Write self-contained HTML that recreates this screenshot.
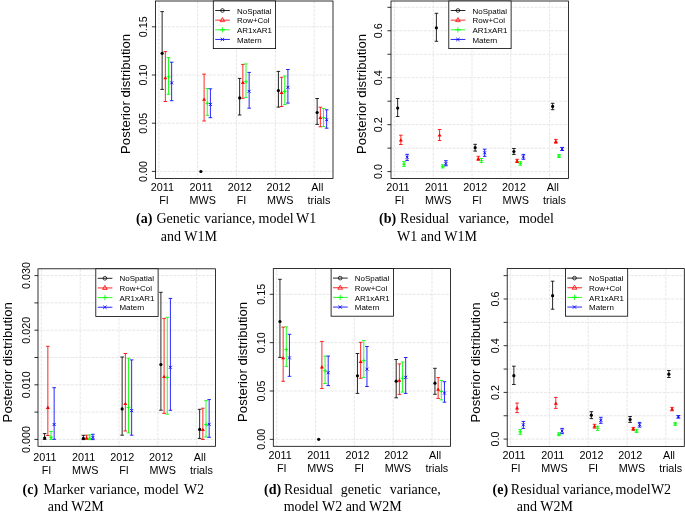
<!DOCTYPE html>
<html><head><meta charset="utf-8"><title>Posterior distributions</title>
<style>
html,body{margin:0;padding:0;background:#fff;width:685px;height:515px;overflow:hidden}
svg{display:block;will-change:transform}
text{font-family:"Liberation Sans",sans-serif;fill:#000}
text.cap{font-family:"Liberation Serif",serif}
</style></head><body>
<svg width="685" height="515" viewBox="0 0 685 515">
<g>
<path d="M158.86 1V178.5M197.69 1V178.5M236.52 1V178.5M275.35 1V178.5M314.18 1V178.5M155.5 171.4H333M155.5 123.2H333M155.5 75H333M155.5 26.8H333" stroke="#e4e4e4" stroke-width="0.9" stroke-dasharray="3 1.1" fill="none"/>
<path d="M162.15 11.6V89.4M160.35 11.6H163.95M160.35 89.4H163.95" stroke="#000000" stroke-width="0.85" fill="none"/>
<circle cx="162.15" cy="53.3" r="1.6" fill="#000000"/>
<path d="M165.35 51.6V101.5M163.55 51.6H167.15M163.55 101.5H167.15" stroke="#ff0000" stroke-width="0.85" fill="none"/>
<polygon points="165.35,76 163.35,79.3 167.35,79.3" fill="#ff0000"/>
<path d="M168.5 57.5V94.3M166.7 57.5H170.3M166.7 94.3H170.3" stroke="#00ff00" stroke-width="0.85" fill="none"/>
<path d="M166.6 76.9H170.4M168.5 75V78.8" stroke="#00ff00" stroke-width="0.9"/>
<path d="M171.65 62.2V100.7M169.85 62.2H173.45M169.85 100.7H173.45" stroke="#0000ff" stroke-width="0.85" fill="none"/>
<path d="M170.15 81.4L173.15 84.4M170.15 84.4L173.15 81.4" stroke="#0000ff" stroke-width="0.9"/>
<circle cx="200.9" cy="171.5" r="1.6" fill="#000000"/>
<path d="M204.1 74.1V121M202.3 74.1H205.9M202.3 121H205.9" stroke="#ff0000" stroke-width="0.85" fill="none"/>
<polygon points="204.1,97.5 202.1,100.8 206.1,100.8" fill="#ff0000"/>
<path d="M207.25 88.5V115.3M205.45 88.5H209.05M205.45 115.3H209.05" stroke="#00ff00" stroke-width="0.85" fill="none"/>
<path d="M205.35 103.3H209.15M207.25 101.4V105.2" stroke="#00ff00" stroke-width="0.9"/>
<path d="M210.4 88.8V117.7M208.6 88.8H212.2M208.6 117.7H212.2" stroke="#0000ff" stroke-width="0.85" fill="none"/>
<path d="M208.9 102.9L211.9 105.9M208.9 105.9L211.9 102.9" stroke="#0000ff" stroke-width="0.9"/>
<path d="M239.65 78.4V115M237.85 78.4H241.45M237.85 115H241.45" stroke="#000000" stroke-width="0.85" fill="none"/>
<circle cx="239.65" cy="97.9" r="1.6" fill="#000000"/>
<path d="M242.85 64.4V98.3M241.05 64.4H244.65M241.05 98.3H244.65" stroke="#ff0000" stroke-width="0.85" fill="none"/>
<polygon points="242.85,80.6 240.85,83.9 244.85,83.9" fill="#ff0000"/>
<path d="M246 63.9V97.4M244.2 63.9H247.8M244.2 97.4H247.8" stroke="#00ff00" stroke-width="0.85" fill="none"/>
<path d="M244.1 81.7H247.9M246 79.8V83.6" stroke="#00ff00" stroke-width="0.9"/>
<path d="M249.15 72.4V108.2M247.35 72.4H250.95M247.35 108.2H250.95" stroke="#0000ff" stroke-width="0.85" fill="none"/>
<path d="M247.65 89.8L250.65 92.8M247.65 92.8L250.65 89.8" stroke="#0000ff" stroke-width="0.9"/>
<path d="M278.4 71.4V107.1M276.6 71.4H280.2M276.6 107.1H280.2" stroke="#000000" stroke-width="0.85" fill="none"/>
<circle cx="278.4" cy="90.6" r="1.6" fill="#000000"/>
<path d="M281.6 77.3V106.5M279.8 77.3H283.4M279.8 106.5H283.4" stroke="#ff0000" stroke-width="0.85" fill="none"/>
<polygon points="281.6,90.6 279.6,93.9 283.6,93.9" fill="#ff0000"/>
<path d="M284.75 76V104.6M282.95 76H286.55M282.95 104.6H286.55" stroke="#00ff00" stroke-width="0.85" fill="none"/>
<path d="M282.85 91.4H286.65M284.75 89.5V93.3" stroke="#00ff00" stroke-width="0.9"/>
<path d="M287.9 69.5V103.1M286.1 69.5H289.7M286.1 103.1H289.7" stroke="#0000ff" stroke-width="0.85" fill="none"/>
<path d="M286.4 85.8L289.4 88.8M286.4 88.8L289.4 85.8" stroke="#0000ff" stroke-width="0.9"/>
<path d="M317.15 98.5V124.4M315.35 98.5H318.95M315.35 124.4H318.95" stroke="#000000" stroke-width="0.85" fill="none"/>
<circle cx="317.15" cy="112.5" r="1.6" fill="#000000"/>
<path d="M320.35 107.2V126.8M318.55 107.2H322.15M318.55 126.8H322.15" stroke="#ff0000" stroke-width="0.85" fill="none"/>
<polygon points="320.35,115.8 318.35,119.1 322.35,119.1" fill="#ff0000"/>
<path d="M323.5 108.4V126.6M321.7 108.4H325.3M321.7 126.6H325.3" stroke="#00ff00" stroke-width="0.85" fill="none"/>
<path d="M321.6 117.7H325.4M323.5 115.8V119.6" stroke="#00ff00" stroke-width="0.9"/>
<path d="M326.65 109.8V128.2M324.85 109.8H328.45M324.85 128.2H328.45" stroke="#0000ff" stroke-width="0.85" fill="none"/>
<path d="M325.15 118.2L328.15 121.2M325.15 121.2L328.15 118.2" stroke="#0000ff" stroke-width="0.9"/>
<rect x="155.5" y="1" width="177.5" height="177.5" fill="none" stroke="#000" stroke-width="0.8"/>
<path d="M151.9 171.4H155.5M151.9 123.2H155.5M151.9 75H155.5M151.9 26.8H155.5" stroke="#000" stroke-width="0.8"/>
<text transform="translate(146.8,171.4) rotate(-90)" font-size="10.8" text-anchor="middle">0.00</text>
<text transform="translate(146.8,123.2) rotate(-90)" font-size="10.8" text-anchor="middle">0.05</text>
<text transform="translate(146.8,75) rotate(-90)" font-size="10.8" text-anchor="middle">0.10</text>
<text transform="translate(146.8,26.8) rotate(-90)" font-size="10.8" text-anchor="middle">0.15</text>
<text transform="translate(129.9,154) rotate(-90)" font-size="13.2" text-anchor="start">Posterior distribution</text>
<text transform="translate(162.3,190.8)" font-size="10.8" text-anchor="middle">2011</text>
<text transform="translate(164,203.9)" font-size="10.8" text-anchor="middle">FI</text>
<text transform="translate(201.05,190.8)" font-size="10.8" text-anchor="middle">2011</text>
<text transform="translate(202.75,203.9)" font-size="10.8" text-anchor="middle">MWS</text>
<text transform="translate(239.8,190.8)" font-size="10.8" text-anchor="middle">2012</text>
<text transform="translate(241.5,203.9)" font-size="10.8" text-anchor="middle">FI</text>
<text transform="translate(278.55,190.8)" font-size="10.8" text-anchor="middle">2012</text>
<text transform="translate(280.25,203.9)" font-size="10.8" text-anchor="middle">MWS</text>
<text transform="translate(317.3,190.8)" font-size="10.8" text-anchor="middle">All</text>
<text transform="translate(319,203.9)" font-size="10.8" text-anchor="middle">trials</text>
<rect x="213.3" y="1" width="62.3" height="47.6" fill="#fff" stroke="#000" stroke-width="0.8"/>
<path d="M215.2 10.5H229.9" stroke="#000000" stroke-width="0.85"/>
<circle cx="222.4" cy="10.5" r="1.85" fill="none" stroke="#000000" stroke-width="0.75"/>
<text transform="translate(237,13.6)" font-size="7.95" text-anchor="start">NoSpatial</text>
<path d="M215.2 20.15H229.9" stroke="#ff0000" stroke-width="0.85"/>
<polygon points="222.4,17.55 220.1,21.65 224.7,21.65" fill="none" stroke="#ff0000" stroke-width="0.8"/>
<text transform="translate(237,23.25)" font-size="7.95" text-anchor="start">Row+Col</text>
<path d="M215.2 29.8H229.9" stroke="#00ff00" stroke-width="0.85"/>
<path d="M219.7 29.8H225.1M222.4 27.1V32.5" stroke="#00ff00" stroke-width="0.8"/>
<text transform="translate(237,32.9)" font-size="7.95" text-anchor="start">AR1xAR1</text>
<path d="M215.2 39.45H229.9" stroke="#0000ff" stroke-width="0.85"/>
<path d="M220.7 37.75L224.1 41.15M220.7 41.15L224.1 37.75" stroke="#0000ff" stroke-width="0.85"/>
<text transform="translate(237,42.55)" font-size="7.95" text-anchor="start">Matern</text>
</g>
<g>
<path d="M394.36 1V178.5M433.19 1V178.5M472.02 1V178.5M510.85 1V178.5M549.68 1V178.5M391 171.6H568.5M391 148.13H568.5M391 124.66H568.5M391 101.19H568.5M391 77.72H568.5M391 54.25H568.5M391 30.78H568.5M391 7.31H568.5" stroke="#e4e4e4" stroke-width="0.9" stroke-dasharray="3 1.1" fill="none"/>
<path d="M397.65 98.5V116.5M395.85 98.5H399.45M395.85 116.5H399.45" stroke="#000000" stroke-width="0.85" fill="none"/>
<circle cx="397.65" cy="108.1" r="1.6" fill="#000000"/>
<path d="M400.85 135.2V144.5M399.05 135.2H402.65M399.05 144.5H402.65" stroke="#ff0000" stroke-width="0.85" fill="none"/>
<polygon points="400.85,138.2 398.85,141.5 402.85,141.5" fill="#ff0000"/>
<path d="M404 161.6V166.4M402.2 161.6H405.8M402.2 166.4H405.8" stroke="#00ff00" stroke-width="0.85" fill="none"/>
<path d="M402.1 164.1H405.9M404 162.2V166" stroke="#00ff00" stroke-width="0.9"/>
<path d="M407.15 154.3V160.4M405.35 154.3H408.95M405.35 160.4H408.95" stroke="#0000ff" stroke-width="0.85" fill="none"/>
<path d="M405.65 155.7L408.65 158.7M405.65 158.7L408.65 155.7" stroke="#0000ff" stroke-width="0.9"/>
<path d="M436.4 13.3V41.3M434.6 13.3H438.2M434.6 41.3H438.2" stroke="#000000" stroke-width="0.85" fill="none"/>
<circle cx="436.4" cy="27.8" r="1.6" fill="#000000"/>
<path d="M439.6 129.5V140.5M437.8 129.5H441.4M437.8 140.5H441.4" stroke="#ff0000" stroke-width="0.85" fill="none"/>
<polygon points="439.6,133.2 437.6,136.5 441.6,136.5" fill="#ff0000"/>
<path d="M442.75 164.8V167.9M440.95 164.8H444.55M440.95 167.9H444.55" stroke="#00ff00" stroke-width="0.85" fill="none"/>
<path d="M440.85 166.4H444.65M442.75 164.5V168.3" stroke="#00ff00" stroke-width="0.9"/>
<path d="M445.9 160.7V165.8M444.1 160.7H447.7M444.1 165.8H447.7" stroke="#0000ff" stroke-width="0.85" fill="none"/>
<path d="M444.4 162L447.4 165M444.4 165L447.4 162" stroke="#0000ff" stroke-width="0.9"/>
<path d="M475.15 144.3V151.1M473.35 144.3H476.95M473.35 151.1H476.95" stroke="#000000" stroke-width="0.85" fill="none"/>
<circle cx="475.15" cy="147.7" r="1.6" fill="#000000"/>
<path d="M478.35 156.3V160.4M476.55 156.3H480.15M476.55 160.4H480.15" stroke="#ff0000" stroke-width="0.85" fill="none"/>
<polygon points="478.35,156.6 476.35,159.9 480.35,159.9" fill="#ff0000"/>
<path d="M481.5 158.5V162.6M479.7 158.5H483.3M479.7 162.6H483.3" stroke="#00ff00" stroke-width="0.85" fill="none"/>
<path d="M479.6 160.7H483.4M481.5 158.8V162.6" stroke="#00ff00" stroke-width="0.9"/>
<path d="M484.65 149.2V156.3M482.85 149.2H486.45M482.85 156.3H486.45" stroke="#0000ff" stroke-width="0.85" fill="none"/>
<path d="M483.15 151.3L486.15 154.3M483.15 154.3L486.15 151.3" stroke="#0000ff" stroke-width="0.9"/>
<path d="M513.9 148.5V154.4M512.1 148.5H515.7M512.1 154.4H515.7" stroke="#000000" stroke-width="0.85" fill="none"/>
<circle cx="513.9" cy="151.5" r="1.6" fill="#000000"/>
<path d="M517.1 159.3V162.5M515.3 159.3H518.9M515.3 162.5H518.9" stroke="#ff0000" stroke-width="0.85" fill="none"/>
<polygon points="517.1,159.1 515.1,162.4 519.1,162.4" fill="#ff0000"/>
<path d="M520.25 161.6V165.2M518.45 161.6H522.05M518.45 165.2H522.05" stroke="#00ff00" stroke-width="0.85" fill="none"/>
<path d="M518.35 163.3H522.15M520.25 161.4V165.2" stroke="#00ff00" stroke-width="0.9"/>
<path d="M523.4 154.4V159.3M521.6 154.4H525.2M521.6 159.3H525.2" stroke="#0000ff" stroke-width="0.85" fill="none"/>
<path d="M521.9 155.4L524.9 158.4M521.9 158.4L524.9 155.4" stroke="#0000ff" stroke-width="0.9"/>
<path d="M552.65 103.3V109.7M550.85 103.3H554.45M550.85 109.7H554.45" stroke="#000000" stroke-width="0.85" fill="none"/>
<circle cx="552.65" cy="106.4" r="1.6" fill="#000000"/>
<path d="M555.85 139.4V143.2M554.05 139.4H557.65M554.05 143.2H557.65" stroke="#ff0000" stroke-width="0.85" fill="none"/>
<polygon points="555.85,139.6 553.85,142.9 557.85,142.9" fill="#ff0000"/>
<path d="M559 154.6V157.5M557.2 154.6H560.8M557.2 157.5H560.8" stroke="#00ff00" stroke-width="0.85" fill="none"/>
<path d="M557.1 156.1H560.9M559 154.2V158" stroke="#00ff00" stroke-width="0.9"/>
<path d="M562.15 147.4V150.5M560.35 147.4H563.95M560.35 150.5H563.95" stroke="#0000ff" stroke-width="0.85" fill="none"/>
<path d="M560.65 147.4L563.65 150.4M560.65 150.4L563.65 147.4" stroke="#0000ff" stroke-width="0.9"/>
<rect x="391" y="1" width="177.5" height="177.5" fill="none" stroke="#000" stroke-width="0.8"/>
<path d="M387.4 171.6H391M387.4 148.13H391M387.4 124.66H391M387.4 101.19H391M387.4 77.72H391M387.4 54.25H391M387.4 30.78H391M387.4 7.31H391" stroke="#000" stroke-width="0.8"/>
<text transform="translate(382.3,171.6) rotate(-90)" font-size="10.8" text-anchor="middle">0.0</text>
<text transform="translate(382.3,124.66) rotate(-90)" font-size="10.8" text-anchor="middle">0.2</text>
<text transform="translate(382.3,77.72) rotate(-90)" font-size="10.8" text-anchor="middle">0.4</text>
<text transform="translate(382.3,30.78) rotate(-90)" font-size="10.8" text-anchor="middle">0.6</text>
<text transform="translate(365.7,154.1) rotate(-90)" font-size="13.2" text-anchor="start">Posterior distribution</text>
<text transform="translate(397.8,191.1)" font-size="10.8" text-anchor="middle">2011</text>
<text transform="translate(399.5,203.9)" font-size="10.8" text-anchor="middle">FI</text>
<text transform="translate(436.55,191.1)" font-size="10.8" text-anchor="middle">2011</text>
<text transform="translate(438.25,203.9)" font-size="10.8" text-anchor="middle">MWS</text>
<text transform="translate(475.3,191.1)" font-size="10.8" text-anchor="middle">2012</text>
<text transform="translate(477,203.9)" font-size="10.8" text-anchor="middle">FI</text>
<text transform="translate(514.05,191.1)" font-size="10.8" text-anchor="middle">2012</text>
<text transform="translate(515.75,203.9)" font-size="10.8" text-anchor="middle">MWS</text>
<text transform="translate(552.8,191.1)" font-size="10.8" text-anchor="middle">All</text>
<text transform="translate(554.5,203.9)" font-size="10.8" text-anchor="middle">trials</text>
<rect x="448.8" y="1" width="62.3" height="47.6" fill="#fff" stroke="#000" stroke-width="0.8"/>
<path d="M450.7 10.5H465.4" stroke="#000000" stroke-width="0.85"/>
<circle cx="457.9" cy="10.5" r="1.85" fill="none" stroke="#000000" stroke-width="0.75"/>
<text transform="translate(472.5,13.6)" font-size="7.95" text-anchor="start">NoSpatial</text>
<path d="M450.7 20.15H465.4" stroke="#ff0000" stroke-width="0.85"/>
<polygon points="457.9,17.55 455.6,21.65 460.2,21.65" fill="none" stroke="#ff0000" stroke-width="0.8"/>
<text transform="translate(472.5,23.25)" font-size="7.95" text-anchor="start">Row+Col</text>
<path d="M450.7 29.8H465.4" stroke="#00ff00" stroke-width="0.85"/>
<path d="M455.2 29.8H460.6M457.9 27.1V32.5" stroke="#00ff00" stroke-width="0.8"/>
<text transform="translate(472.5,32.9)" font-size="7.95" text-anchor="start">AR1xAR1</text>
<path d="M450.7 39.45H465.4" stroke="#0000ff" stroke-width="0.85"/>
<path d="M456.2 37.75L459.6 41.15M456.2 41.15L459.6 37.75" stroke="#0000ff" stroke-width="0.85"/>
<text transform="translate(472.5,42.55)" font-size="7.95" text-anchor="start">Matern</text>
</g>
<g>
<path d="M41.36 268.8V446.3M80.19 268.8V446.3M119.02 268.8V446.3M157.85 268.8V446.3M196.68 268.8V446.3M38 439.4H215.5M38 412.1H215.5M38 384.8H215.5M38 357.5H215.5M38 330.2H215.5M38 302.9H215.5M38 275.6H215.5" stroke="#e4e4e4" stroke-width="0.9" stroke-dasharray="3 1.1" fill="none"/>
<path d="M44.65 433.6V439.4M42.85 433.6H46.45M42.85 439.4H46.45" stroke="#000000" stroke-width="0.85" fill="none"/>
<circle cx="44.65" cy="438" r="1.6" fill="#000000"/>
<path d="M47.85 346.3V435.5M46.05 346.3H49.65M46.05 435.5H49.65" stroke="#ff0000" stroke-width="0.85" fill="none"/>
<polygon points="47.85,405.6 45.85,408.9 49.85,408.9" fill="#ff0000"/>
<path d="M51 431.5V439.4M49.2 431.5H52.8M49.2 439.4H52.8" stroke="#00ff00" stroke-width="0.85" fill="none"/>
<path d="M49.1 437.2H52.9M51 435.3V439.1" stroke="#00ff00" stroke-width="0.9"/>
<path d="M54.15 387.7V439.3M52.35 387.7H55.95M52.35 439.3H55.95" stroke="#0000ff" stroke-width="0.85" fill="none"/>
<path d="M52.65 423L55.65 426M52.65 426L55.65 423" stroke="#0000ff" stroke-width="0.9"/>
<path d="M83.4 435.3V439.6M81.6 435.3H85.2M81.6 439.6H85.2" stroke="#000000" stroke-width="0.85" fill="none"/>
<circle cx="83.4" cy="438.4" r="1.6" fill="#000000"/>
<path d="M86.6 435.2V439.2M84.8 435.2H88.4M84.8 439.2H88.4" stroke="#ff0000" stroke-width="0.85" fill="none"/>
<polygon points="86.6,436.1 84.6,439.4 88.6,439.4" fill="#ff0000"/>
<path d="M89.75 434.9V439.6M87.95 434.9H91.55M87.95 439.6H91.55" stroke="#00ff00" stroke-width="0.85" fill="none"/>
<path d="M87.85 438.2H91.65M89.75 436.3V440.1" stroke="#00ff00" stroke-width="0.9"/>
<path d="M92.9 434.3V439.6M91.1 434.3H94.7M91.1 439.6H94.7" stroke="#0000ff" stroke-width="0.85" fill="none"/>
<path d="M91.4 435.9L94.4 438.9M91.4 438.9L94.4 435.9" stroke="#0000ff" stroke-width="0.9"/>
<path d="M122.15 357V435.2M120.35 357H123.95M120.35 435.2H123.95" stroke="#000000" stroke-width="0.85" fill="none"/>
<circle cx="122.15" cy="408.9" r="1.6" fill="#000000"/>
<path d="M125.35 353.5V431M123.55 353.5H127.15M123.55 431H127.15" stroke="#ff0000" stroke-width="0.85" fill="none"/>
<polygon points="125.35,401.7 123.35,405 127.35,405" fill="#ff0000"/>
<path d="M128.5 358.3V432.9M126.7 358.3H130.3M126.7 432.9H130.3" stroke="#00ff00" stroke-width="0.85" fill="none"/>
<path d="M126.6 407.4H130.4M128.5 405.5V409.3" stroke="#00ff00" stroke-width="0.9"/>
<path d="M131.65 359.9V435.2M129.85 359.9H133.45M129.85 435.2H133.45" stroke="#0000ff" stroke-width="0.85" fill="none"/>
<path d="M130.15 409.1L133.15 412.1M130.15 412.1L133.15 409.1" stroke="#0000ff" stroke-width="0.9"/>
<path d="M160.9 292.3V410.2M159.1 292.3H162.7M159.1 410.2H162.7" stroke="#000000" stroke-width="0.85" fill="none"/>
<circle cx="160.9" cy="364.6" r="1.6" fill="#000000"/>
<path d="M164.1 318.4V413.4M162.3 318.4H165.9M162.3 413.4H165.9" stroke="#ff0000" stroke-width="0.85" fill="none"/>
<polygon points="164.1,374.7 162.1,378 166.1,378" fill="#ff0000"/>
<path d="M167.25 317.3V414.2M165.45 317.3H169.05M165.45 414.2H169.05" stroke="#00ff00" stroke-width="0.85" fill="none"/>
<path d="M165.35 377.4H169.15M167.25 375.5V379.3" stroke="#00ff00" stroke-width="0.9"/>
<path d="M170.4 298.4V410.3M168.6 298.4H172.2M168.6 410.3H172.2" stroke="#0000ff" stroke-width="0.85" fill="none"/>
<path d="M168.9 365.8L171.9 368.8M168.9 368.8L171.9 365.8" stroke="#0000ff" stroke-width="0.9"/>
<path d="M199.65 409.3V438.4M197.85 409.3H201.45M197.85 438.4H201.45" stroke="#000000" stroke-width="0.85" fill="none"/>
<circle cx="199.65" cy="429.4" r="1.6" fill="#000000"/>
<path d="M202.85 408.2V439.5M201.05 408.2H204.65M201.05 439.5H204.65" stroke="#ff0000" stroke-width="0.85" fill="none"/>
<polygon points="202.85,427.8 200.85,431.1 204.85,431.1" fill="#ff0000"/>
<path d="M206 400.6V437M204.2 400.6H207.8M204.2 437H207.8" stroke="#00ff00" stroke-width="0.85" fill="none"/>
<path d="M204.1 424.6H207.9M206 422.7V426.5" stroke="#00ff00" stroke-width="0.9"/>
<path d="M209.15 399.6V437.3M207.35 399.6H210.95M207.35 437.3H210.95" stroke="#0000ff" stroke-width="0.85" fill="none"/>
<path d="M207.65 422.8L210.65 425.8M207.65 425.8L210.65 422.8" stroke="#0000ff" stroke-width="0.9"/>
<rect x="38" y="268.8" width="177.5" height="177.5" fill="none" stroke="#000" stroke-width="0.8"/>
<path d="M34.4 439.4H38M34.4 412.1H38M34.4 384.8H38M34.4 357.5H38M34.4 330.2H38M34.4 302.9H38M34.4 275.6H38" stroke="#000" stroke-width="0.8"/>
<text transform="translate(30,439.4) rotate(-90)" font-size="10.8" text-anchor="middle">0.000</text>
<text transform="translate(30,384.8) rotate(-90)" font-size="10.8" text-anchor="middle">0.010</text>
<text transform="translate(30,330.2) rotate(-90)" font-size="10.8" text-anchor="middle">0.020</text>
<text transform="translate(30,275.6) rotate(-90)" font-size="10.8" text-anchor="middle">0.030</text>
<text transform="translate(12.4,422.4) rotate(-90)" font-size="13.2" text-anchor="start">Posterior distribution</text>
<text transform="translate(44.8,461)" font-size="10.8" text-anchor="middle">2011</text>
<text transform="translate(46.5,474.2)" font-size="10.8" text-anchor="middle">FI</text>
<text transform="translate(83.55,461)" font-size="10.8" text-anchor="middle">2011</text>
<text transform="translate(85.25,474.2)" font-size="10.8" text-anchor="middle">MWS</text>
<text transform="translate(122.3,461)" font-size="10.8" text-anchor="middle">2012</text>
<text transform="translate(124,474.2)" font-size="10.8" text-anchor="middle">FI</text>
<text transform="translate(161.05,461)" font-size="10.8" text-anchor="middle">2012</text>
<text transform="translate(162.75,474.2)" font-size="10.8" text-anchor="middle">MWS</text>
<text transform="translate(199.8,461)" font-size="10.8" text-anchor="middle">All</text>
<text transform="translate(201.5,474.2)" font-size="10.8" text-anchor="middle">trials</text>
<rect x="95.8" y="268.8" width="62.3" height="47.6" fill="#fff" stroke="#000" stroke-width="0.8"/>
<path d="M97.7 278.3H112.4" stroke="#000000" stroke-width="0.85"/>
<circle cx="104.9" cy="278.3" r="1.85" fill="none" stroke="#000000" stroke-width="0.75"/>
<text transform="translate(119.5,281.4)" font-size="7.95" text-anchor="start">NoSpatial</text>
<path d="M97.7 287.95H112.4" stroke="#ff0000" stroke-width="0.85"/>
<polygon points="104.9,285.35 102.6,289.45 107.2,289.45" fill="none" stroke="#ff0000" stroke-width="0.8"/>
<text transform="translate(119.5,291.05)" font-size="7.95" text-anchor="start">Row+Col</text>
<path d="M97.7 297.6H112.4" stroke="#00ff00" stroke-width="0.85"/>
<path d="M102.2 297.6H107.6M104.9 294.9V300.3" stroke="#00ff00" stroke-width="0.8"/>
<text transform="translate(119.5,300.7)" font-size="7.95" text-anchor="start">AR1xAR1</text>
<path d="M97.7 307.25H112.4" stroke="#0000ff" stroke-width="0.85"/>
<path d="M103.2 305.55L106.6 308.95M103.2 308.95L106.6 305.55" stroke="#0000ff" stroke-width="0.85"/>
<text transform="translate(119.5,310.35)" font-size="7.95" text-anchor="start">Matern</text>
</g>
<g>
<path d="M276.66 268.6V446.3M315.49 268.6V446.3M354.32 268.6V446.3M393.15 268.6V446.3M431.98 268.6V446.3M273.3 439.35H450.5M273.3 391H450.5M273.3 342.65H450.5M273.3 294.3H450.5" stroke="#e4e4e4" stroke-width="0.9" stroke-dasharray="3 1.1" fill="none"/>
<path d="M279.95 279.3V357.4M278.15 279.3H281.75M278.15 357.4H281.75" stroke="#000000" stroke-width="0.85" fill="none"/>
<circle cx="279.95" cy="321.5" r="1.6" fill="#000000"/>
<path d="M283.15 327.1V381.3M281.35 327.1H284.95M281.35 381.3H284.95" stroke="#ff0000" stroke-width="0.85" fill="none"/>
<polygon points="283.15,356 281.15,359.3 285.15,359.3" fill="#ff0000"/>
<path d="M286.3 326.8V366.4M284.5 326.8H288.1M284.5 366.4H288.1" stroke="#00ff00" stroke-width="0.85" fill="none"/>
<path d="M284.4 349.5H288.2M286.3 347.6V351.4" stroke="#00ff00" stroke-width="0.9"/>
<path d="M289.45 334.3V376.3M287.65 334.3H291.25M287.65 376.3H291.25" stroke="#0000ff" stroke-width="0.85" fill="none"/>
<path d="M287.95 356.4L290.95 359.4M287.95 359.4L290.95 356.4" stroke="#0000ff" stroke-width="0.9"/>
<circle cx="318.7" cy="439.3" r="1.6" fill="#000000"/>
<path d="M321.9 341.4V388.5M320.1 341.4H323.7M320.1 388.5H323.7" stroke="#ff0000" stroke-width="0.85" fill="none"/>
<polygon points="321.9,365.1 319.9,368.4 323.9,368.4" fill="#ff0000"/>
<path d="M325.05 356.1V383.5M323.25 356.1H326.85M323.25 383.5H326.85" stroke="#00ff00" stroke-width="0.85" fill="none"/>
<path d="M323.15 370.8H326.95M325.05 368.9V372.7" stroke="#00ff00" stroke-width="0.9"/>
<path d="M328.2 356.1V385.6M326.4 356.1H330M326.4 385.6H330" stroke="#0000ff" stroke-width="0.85" fill="none"/>
<path d="M326.7 371.2L329.7 374.2M326.7 374.2L329.7 371.2" stroke="#0000ff" stroke-width="0.9"/>
<path d="M357.45 353.5V393.4M355.65 353.5H359.25M355.65 393.4H359.25" stroke="#000000" stroke-width="0.85" fill="none"/>
<circle cx="357.45" cy="375.8" r="1.6" fill="#000000"/>
<path d="M360.65 342.3V378.3M358.85 342.3H362.45M358.85 378.3H362.45" stroke="#ff0000" stroke-width="0.85" fill="none"/>
<polygon points="360.65,359.8 358.65,363.1 362.65,363.1" fill="#ff0000"/>
<path d="M363.8 340.6V377.4M362 340.6H365.6M362 377.4H365.6" stroke="#00ff00" stroke-width="0.85" fill="none"/>
<path d="M361.9 360.7H365.7M363.8 358.8V362.6" stroke="#00ff00" stroke-width="0.9"/>
<path d="M366.95 346.5V386.5M365.15 346.5H368.75M365.15 386.5H368.75" stroke="#0000ff" stroke-width="0.85" fill="none"/>
<path d="M365.45 367.7L368.45 370.7M365.45 370.7L368.45 367.7" stroke="#0000ff" stroke-width="0.9"/>
<path d="M396.2 359.5V397.8M394.4 359.5H398M394.4 397.8H398" stroke="#000000" stroke-width="0.85" fill="none"/>
<circle cx="396.2" cy="381.2" r="1.6" fill="#000000"/>
<path d="M399.4 363.9V394.4M397.6 363.9H401.2M397.6 394.4H401.2" stroke="#ff0000" stroke-width="0.85" fill="none"/>
<polygon points="399.4,378.5 397.4,381.8 401.4,381.8" fill="#ff0000"/>
<path d="M402.55 362V392.1M400.75 362H404.35M400.75 392.1H404.35" stroke="#00ff00" stroke-width="0.85" fill="none"/>
<path d="M400.65 378.3H404.45M402.55 376.4V380.2" stroke="#00ff00" stroke-width="0.9"/>
<path d="M405.7 357.5V393.4M403.9 357.5H407.5M403.9 393.4H407.5" stroke="#0000ff" stroke-width="0.85" fill="none"/>
<path d="M404.2 375.8L407.2 378.8M404.2 378.8L407.2 375.8" stroke="#0000ff" stroke-width="0.9"/>
<path d="M434.95 368.3V394.3M433.15 368.3H436.75M433.15 394.3H436.75" stroke="#000000" stroke-width="0.85" fill="none"/>
<circle cx="434.95" cy="383.2" r="1.6" fill="#000000"/>
<path d="M438.15 377.6V398.4M436.35 377.6H439.95M436.35 398.4H439.95" stroke="#ff0000" stroke-width="0.85" fill="none"/>
<polygon points="438.15,387.4 436.15,390.7 440.15,390.7" fill="#ff0000"/>
<path d="M441.3 380.5V399.9M439.5 380.5H443.1M439.5 399.9H443.1" stroke="#00ff00" stroke-width="0.85" fill="none"/>
<path d="M439.4 391.4H443.2M441.3 389.5V393.3" stroke="#00ff00" stroke-width="0.9"/>
<path d="M444.45 381.7V402.2M442.65 381.7H446.25M442.65 402.2H446.25" stroke="#0000ff" stroke-width="0.85" fill="none"/>
<path d="M442.95 391.6L445.95 394.6M442.95 394.6L445.95 391.6" stroke="#0000ff" stroke-width="0.9"/>
<rect x="273.3" y="268.6" width="177.2" height="177.7" fill="none" stroke="#000" stroke-width="0.8"/>
<path d="M269.7 439.35H273.3M269.7 391H273.3M269.7 342.65H273.3M269.7 294.3H273.3" stroke="#000" stroke-width="0.8"/>
<text transform="translate(264.6,439.35) rotate(-90)" font-size="10.8" text-anchor="middle">0.00</text>
<text transform="translate(264.6,391) rotate(-90)" font-size="10.8" text-anchor="middle">0.05</text>
<text transform="translate(264.6,342.65) rotate(-90)" font-size="10.8" text-anchor="middle">0.10</text>
<text transform="translate(264.6,294.3) rotate(-90)" font-size="10.8" text-anchor="middle">0.15</text>
<text transform="translate(247,422) rotate(-90)" font-size="13.2" text-anchor="start">Posterior distribution</text>
<text transform="translate(280.1,458.8)" font-size="10.8" text-anchor="middle">2011</text>
<text transform="translate(281.8,471.5)" font-size="10.8" text-anchor="middle">FI</text>
<text transform="translate(318.85,458.8)" font-size="10.8" text-anchor="middle">2011</text>
<text transform="translate(320.55,471.5)" font-size="10.8" text-anchor="middle">MWS</text>
<text transform="translate(357.6,458.8)" font-size="10.8" text-anchor="middle">2012</text>
<text transform="translate(359.3,471.5)" font-size="10.8" text-anchor="middle">FI</text>
<text transform="translate(396.35,458.8)" font-size="10.8" text-anchor="middle">2012</text>
<text transform="translate(398.05,471.5)" font-size="10.8" text-anchor="middle">MWS</text>
<text transform="translate(435.1,458.8)" font-size="10.8" text-anchor="middle">All</text>
<text transform="translate(436.8,471.5)" font-size="10.8" text-anchor="middle">trials</text>
<rect x="331.1" y="268.6" width="62.3" height="47.6" fill="#fff" stroke="#000" stroke-width="0.8"/>
<path d="M333 278.1H347.7" stroke="#000000" stroke-width="0.85"/>
<circle cx="340.2" cy="278.1" r="1.85" fill="none" stroke="#000000" stroke-width="0.75"/>
<text transform="translate(354.8,281.2)" font-size="7.95" text-anchor="start">NoSpatial</text>
<path d="M333 287.75H347.7" stroke="#ff0000" stroke-width="0.85"/>
<polygon points="340.2,285.15 337.9,289.25 342.5,289.25" fill="none" stroke="#ff0000" stroke-width="0.8"/>
<text transform="translate(354.8,290.85)" font-size="7.95" text-anchor="start">Row+Col</text>
<path d="M333 297.4H347.7" stroke="#00ff00" stroke-width="0.85"/>
<path d="M337.5 297.4H342.9M340.2 294.7V300.1" stroke="#00ff00" stroke-width="0.8"/>
<text transform="translate(354.8,300.5)" font-size="7.95" text-anchor="start">AR1xAR1</text>
<path d="M333 307.05H347.7" stroke="#0000ff" stroke-width="0.85"/>
<path d="M338.5 305.35L341.9 308.75M338.5 308.75L341.9 305.35" stroke="#0000ff" stroke-width="0.85"/>
<text transform="translate(354.8,310.15)" font-size="7.95" text-anchor="start">Matern</text>
</g>
<g>
<path d="M510.56 268.6V446.4M549.39 268.6V446.4M588.22 268.6V446.4M627.05 268.6V446.4M665.88 268.6V446.4M507.2 439.1H684.3M507.2 415.75H684.3M507.2 392.4H684.3M507.2 369.05H684.3M507.2 345.7H684.3M507.2 322.35H684.3M507.2 299H684.3M507.2 275.65H684.3" stroke="#e4e4e4" stroke-width="0.9" stroke-dasharray="3 1.1" fill="none"/>
<path d="M513.85 366.2V384.5M512.05 366.2H515.65M512.05 384.5H515.65" stroke="#000000" stroke-width="0.85" fill="none"/>
<circle cx="513.85" cy="375.7" r="1.6" fill="#000000"/>
<path d="M517.05 403.1V412.6M515.25 403.1H518.85M515.25 412.6H518.85" stroke="#ff0000" stroke-width="0.85" fill="none"/>
<polygon points="517.05,406.1 515.05,409.4 519.05,409.4" fill="#ff0000"/>
<path d="M520.2 429.5V434.3M518.4 429.5H522M518.4 434.3H522" stroke="#00ff00" stroke-width="0.85" fill="none"/>
<path d="M518.3 431.8H522.1M520.2 429.9V433.7" stroke="#00ff00" stroke-width="0.9"/>
<path d="M523.35 421.4V428.4M521.55 421.4H525.15M521.55 428.4H525.15" stroke="#0000ff" stroke-width="0.85" fill="none"/>
<path d="M521.85 423.3L524.85 426.3M521.85 426.3L524.85 423.3" stroke="#0000ff" stroke-width="0.9"/>
<path d="M552.6 281.2V309.2M550.8 281.2H554.4M550.8 309.2H554.4" stroke="#000000" stroke-width="0.85" fill="none"/>
<circle cx="552.6" cy="295.7" r="1.6" fill="#000000"/>
<path d="M555.8 397.4V408.4M554 397.4H557.6M554 408.4H557.6" stroke="#ff0000" stroke-width="0.85" fill="none"/>
<polygon points="555.8,401.5 553.8,404.8 557.8,404.8" fill="#ff0000"/>
<path d="M558.95 432.8V435.6M557.15 432.8H560.75M557.15 435.6H560.75" stroke="#00ff00" stroke-width="0.85" fill="none"/>
<path d="M557.05 434.3H560.85M558.95 432.4V436.2" stroke="#00ff00" stroke-width="0.9"/>
<path d="M562.1 428.4V433.7M560.3 428.4H563.9M560.3 433.7H563.9" stroke="#0000ff" stroke-width="0.85" fill="none"/>
<path d="M560.6 429.6L563.6 432.6M560.6 432.6L563.6 429.6" stroke="#0000ff" stroke-width="0.9"/>
<path d="M591.35 411.7V418.6M589.55 411.7H593.15M589.55 418.6H593.15" stroke="#000000" stroke-width="0.85" fill="none"/>
<circle cx="591.35" cy="415.2" r="1.6" fill="#000000"/>
<path d="M594.55 424.3V428.1M592.75 424.3H596.35M592.75 428.1H596.35" stroke="#ff0000" stroke-width="0.85" fill="none"/>
<polygon points="594.55,424.3 592.55,427.6 596.55,427.6" fill="#ff0000"/>
<path d="M597.7 426.2V430.4M595.9 426.2H599.5M595.9 430.4H599.5" stroke="#00ff00" stroke-width="0.85" fill="none"/>
<path d="M595.8 428.1H599.6M597.7 426.2V430" stroke="#00ff00" stroke-width="0.9"/>
<path d="M600.85 417.3V423.3M599.05 417.3H602.65M599.05 423.3H602.65" stroke="#0000ff" stroke-width="0.85" fill="none"/>
<path d="M599.35 418.8L602.35 421.8M599.35 421.8L602.35 418.8" stroke="#0000ff" stroke-width="0.9"/>
<path d="M630.1 416.5V422.4M628.3 416.5H631.9M628.3 422.4H631.9" stroke="#000000" stroke-width="0.85" fill="none"/>
<circle cx="630.1" cy="419.5" r="1.6" fill="#000000"/>
<path d="M633.3 427.4V430.4M631.5 427.4H635.1M631.5 430.4H635.1" stroke="#ff0000" stroke-width="0.85" fill="none"/>
<polygon points="633.3,426.8 631.3,430.1 635.3,430.1" fill="#ff0000"/>
<path d="M636.45 429.3V432.5M634.65 429.3H638.25M634.65 432.5H638.25" stroke="#00ff00" stroke-width="0.85" fill="none"/>
<path d="M634.55 431H638.35M636.45 429.1V432.9" stroke="#00ff00" stroke-width="0.9"/>
<path d="M639.6 422.4V427.1M637.8 422.4H641.4M637.8 427.1H641.4" stroke="#0000ff" stroke-width="0.85" fill="none"/>
<path d="M638.1 423.2L641.1 426.2M638.1 426.2L641.1 423.2" stroke="#0000ff" stroke-width="0.9"/>
<path d="M668.85 370.5V377.5M667.05 370.5H670.65M667.05 377.5H670.65" stroke="#000000" stroke-width="0.85" fill="none"/>
<circle cx="668.85" cy="374.2" r="1.6" fill="#000000"/>
<path d="M672.05 407.4V410.8M670.25 407.4H673.85M670.25 410.8H673.85" stroke="#ff0000" stroke-width="0.85" fill="none"/>
<polygon points="672.05,407.3 670.05,410.6 674.05,410.6" fill="#ff0000"/>
<path d="M675.2 422.7V425.4M673.4 422.7H677M673.4 425.4H677" stroke="#00ff00" stroke-width="0.85" fill="none"/>
<path d="M673.3 423.9H677.1M675.2 422V425.8" stroke="#00ff00" stroke-width="0.9"/>
<path d="M678.35 415.6V418.1M676.55 415.6H680.15M676.55 418.1H680.15" stroke="#0000ff" stroke-width="0.85" fill="none"/>
<path d="M676.85 415.4L679.85 418.4M676.85 418.4L679.85 415.4" stroke="#0000ff" stroke-width="0.9"/>
<rect x="507.2" y="268.6" width="177.1" height="177.8" fill="none" stroke="#000" stroke-width="0.8"/>
<path d="M503.6 439.1H507.2M503.6 415.75H507.2M503.6 392.4H507.2M503.6 369.05H507.2M503.6 345.7H507.2M503.6 322.35H507.2M503.6 299H507.2M503.6 275.65H507.2" stroke="#000" stroke-width="0.8"/>
<text transform="translate(498.5,439.1) rotate(-90)" font-size="10.8" text-anchor="middle">0.0</text>
<text transform="translate(498.5,392.4) rotate(-90)" font-size="10.8" text-anchor="middle">0.2</text>
<text transform="translate(498.5,345.7) rotate(-90)" font-size="10.8" text-anchor="middle">0.4</text>
<text transform="translate(498.5,299) rotate(-90)" font-size="10.8" text-anchor="middle">0.6</text>
<text transform="translate(480.3,422.5) rotate(-90)" font-size="13.2" text-anchor="start">Posterior distribution</text>
<text transform="translate(514,459.3)" font-size="10.8" text-anchor="middle">2011</text>
<text transform="translate(515.7,471.9)" font-size="10.8" text-anchor="middle">FI</text>
<text transform="translate(552.75,459.3)" font-size="10.8" text-anchor="middle">2011</text>
<text transform="translate(554.45,471.9)" font-size="10.8" text-anchor="middle">MWS</text>
<text transform="translate(591.5,459.3)" font-size="10.8" text-anchor="middle">2012</text>
<text transform="translate(593.2,471.9)" font-size="10.8" text-anchor="middle">FI</text>
<text transform="translate(630.25,459.3)" font-size="10.8" text-anchor="middle">2012</text>
<text transform="translate(631.95,471.9)" font-size="10.8" text-anchor="middle">MWS</text>
<text transform="translate(669,459.3)" font-size="10.8" text-anchor="middle">All</text>
<text transform="translate(670.7,471.9)" font-size="10.8" text-anchor="middle">trials</text>
<rect x="565.4" y="268.6" width="62.3" height="47.6" fill="#fff" stroke="#000" stroke-width="0.8"/>
<path d="M567.3 278.1H582" stroke="#000000" stroke-width="0.85"/>
<circle cx="574.5" cy="278.1" r="1.85" fill="none" stroke="#000000" stroke-width="0.75"/>
<text transform="translate(589.1,281.2)" font-size="7.95" text-anchor="start">NoSpatial</text>
<path d="M567.3 287.75H582" stroke="#ff0000" stroke-width="0.85"/>
<polygon points="574.5,285.15 572.2,289.25 576.8,289.25" fill="none" stroke="#ff0000" stroke-width="0.8"/>
<text transform="translate(589.1,290.85)" font-size="7.95" text-anchor="start">Row+Col</text>
<path d="M567.3 297.4H582" stroke="#00ff00" stroke-width="0.85"/>
<path d="M571.8 297.4H577.2M574.5 294.7V300.1" stroke="#00ff00" stroke-width="0.8"/>
<text transform="translate(589.1,300.5)" font-size="7.95" text-anchor="start">AR1xAR1</text>
<path d="M567.3 307.05H582" stroke="#0000ff" stroke-width="0.85"/>
<path d="M572.8 305.35L576.2 308.75M572.8 308.75L576.2 305.35" stroke="#0000ff" stroke-width="0.85"/>
<text transform="translate(589.1,310.15)" font-size="7.95" text-anchor="start">Matern</text>
</g>
<text transform="translate(136,223.3)" font-size="14" text-anchor="start" font-weight="bold" class="cap">(a)</text>
<text transform="translate(156.4,223.3)" font-size="14" text-anchor="start" class="cap">Genetic</text>
<text transform="translate(204.3,223.3)" font-size="14" text-anchor="start" class="cap">variance,</text>
<text transform="translate(258.6,223.3)" font-size="14" text-anchor="start" class="cap">model</text>
<text transform="translate(296.1,223.3)" font-size="14" text-anchor="start" class="cap">W1</text>
<text transform="translate(160.8,240.8)" font-size="14" text-anchor="start" class="cap">and W1M</text>
<text transform="translate(379,223.3)" font-size="14" text-anchor="start" font-weight="bold" class="cap">(b)</text>
<text transform="translate(400.1,223.3)" font-size="14" text-anchor="start" class="cap">Residual</text>
<text transform="translate(458.4,223.3)" font-size="14" text-anchor="start" class="cap">variance,</text>
<text transform="translate(518.9,223.3)" font-size="14" text-anchor="start" class="cap">model</text>
<text transform="translate(397.1,240.8)" font-size="14" text-anchor="start" class="cap">W1 and W1M</text>
<text transform="translate(22.6,493.8)" font-size="14" text-anchor="start" font-weight="bold" class="cap">(c)</text>
<text transform="translate(43.5,493.8)" font-size="14" text-anchor="start" class="cap">Marker</text>
<text transform="translate(88.9,493.8)" font-size="14" text-anchor="start" class="cap">variance,</text>
<text transform="translate(144,493.8)" font-size="14" text-anchor="start" class="cap">model</text>
<text transform="translate(183.8,493.8)" font-size="14" text-anchor="start" class="cap">W2</text>
<text transform="translate(47.7,510.9)" font-size="14" text-anchor="start" class="cap">and W2M</text>
<text transform="translate(264.1,493.8)" font-size="14" text-anchor="start" font-weight="bold" class="cap">(d)</text>
<text transform="translate(284,493.8)" font-size="14" text-anchor="start" class="cap">Residual</text>
<text transform="translate(340.8,493.8)" font-size="14" text-anchor="start" class="cap">genetic</text>
<text transform="translate(389.8,493.8)" font-size="14" text-anchor="start" class="cap">variance,</text>
<text transform="translate(283.7,510.9)" font-size="14" text-anchor="start" class="cap">model W2 and W2M</text>
<text transform="translate(492.5,493.8)" font-size="14" text-anchor="start" font-weight="bold" class="cap">(e)</text>
<text transform="translate(510.8,493.8)" font-size="14" text-anchor="start" class="cap">Residual</text>
<text transform="translate(562.7,493.8)" font-size="14" text-anchor="start" class="cap">variance,</text>
<text transform="translate(615.6,493.8)" font-size="14" text-anchor="start" class="cap">model</text>
<text transform="translate(650.9,493.8)" font-size="14" text-anchor="start" class="cap">W2</text>
<text transform="translate(516.8,510.9)" font-size="14" text-anchor="start" class="cap">and W2M</text>
</svg>
</body></html>
